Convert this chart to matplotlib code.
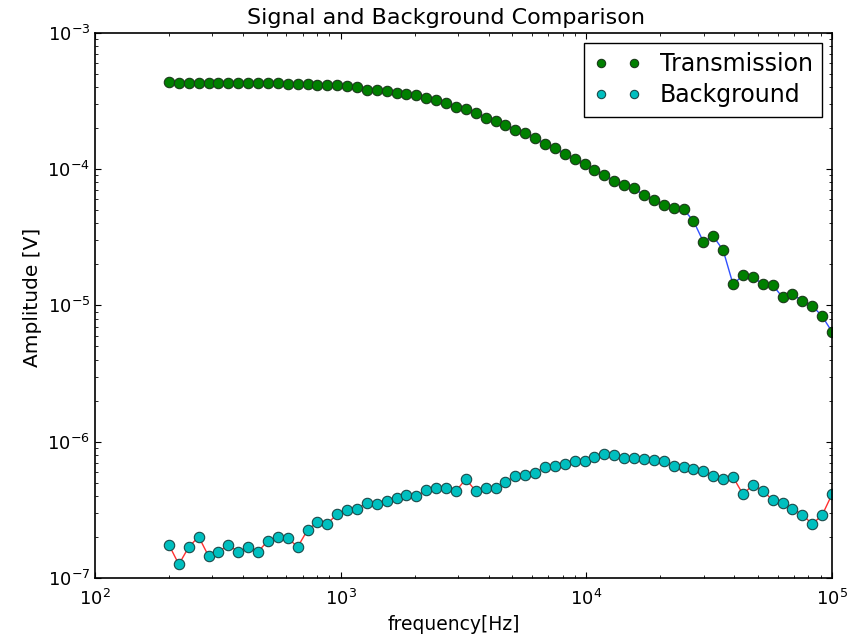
import matplotlib
matplotlib.use('Agg')
import matplotlib.pyplot as plt

# Frequency points of the sweep [Hz]
frequency = [200, 219.4, 240.8, 264.2, 289.8, 318.0, 348.9, 382.8, 420.0, 460.9,
             505.7, 554.8, 608.7, 667.9, 732.8, 804.0, 882.1, 967.9, 1061.9, 1165.1,
             1278.4, 1402.6, 1538.9, 1688.5, 1852.6, 2032.7, 2230.2, 2447.0, 2684.8, 2945.7,
             3232.0, 3546.1, 3890.8, 4268.9, 4683.8, 5139.0, 5638.5, 6186.5, 6787.7, 7447.4,
             8171.2, 8965.3, 9836.6, 10792.7, 11841.6, 12992.4, 14255.2, 15640.6, 17160.7, 18828.6,
             20658.5, 22666.2, 24869.2, 27286.1, 29938.0, 32847.6, 36040.1, 39542.7, 43385.7, 47602.3,
             52228.6, 57304.5, 62873.8, 68984.4, 75688.9, 83044.9, 91116.0, 100000]

# Measured amplitude with the sample in place [V]
transmission = [4.36e-4, 4.29e-4, 4.29e-4, 4.29e-4, 4.29e-4, 4.29e-4, 4.29e-4, 4.29e-4, 4.29e-4, 4.26e-4,
                4.26e-4, 4.26e-4, 4.21e-4, 4.21e-4, 4.21e-4, 4.12e-4, 4.12e-4, 4.12e-4, 4.05e-4, 3.99e-4,
                3.81e-4, 3.81e-4, 3.74e-4, 3.60e-4, 3.54e-4, 3.48e-4, 3.35e-4, 3.22e-4, 3.06e-4, 2.87e-4,
                2.76e-4, 2.60e-4, 2.39e-4, 2.26e-4, 2.10e-4, 1.95e-4, 1.84e-4, 1.68e-4, 1.54e-4, 1.42e-4,
                1.30e-4, 1.18e-4, 1.09e-4, 9.93e-5, 9.02e-5, 8.19e-5, 7.71e-5, 7.21e-5, 6.44e-5, 5.92e-5,
                5.50e-5, 5.19e-5, 5.06e-5, 4.17e-5, 2.93e-5, 3.22e-5, 2.54e-5, 1.43e-5, 1.66e-5, 1.62e-5,
                1.43e-5, 1.41e-5, 1.15e-5, 1.21e-5, 1.08e-5, 9.93e-6, 8.35e-6, 6.40e-6]

# Measured amplitude without the sample [V]
background = [1.75e-7, 1.26e-7, 1.69e-7, 2.01e-7, 1.45e-7, 1.56e-7, 1.75e-7, 1.56e-7, 1.69e-7, 1.56e-7,
              1.88e-7, 2.01e-7, 1.97e-7, 1.69e-7, 2.25e-7, 2.58e-7, 2.51e-7, 2.94e-7, 3.14e-7, 3.23e-7,
              3.55e-7, 3.48e-7, 3.66e-7, 3.87e-7, 4.09e-7, 3.98e-7, 4.42e-7, 4.55e-7, 4.55e-7, 4.35e-7,
              5.33e-7, 4.34e-7, 4.56e-7, 4.55e-7, 5.04e-7, 5.63e-7, 5.73e-7, 5.90e-7, 6.56e-7, 6.67e-7,
              6.86e-7, 7.26e-7, 7.22e-7, 7.68e-7, 8.12e-7, 7.95e-7, 7.63e-7, 7.63e-7, 7.47e-7, 7.34e-7,
              7.22e-7, 6.67e-7, 6.52e-7, 6.31e-7, 6.07e-7, 5.60e-7, 5.33e-7, 5.51e-7, 4.12e-7, 4.81e-7,
              4.37e-7, 3.74e-7, 3.54e-7, 3.23e-7, 2.92e-7, 2.49e-7, 2.89e-7, 4.12e-7]

plt.rcParams['xtick.direction'] = 'in'
plt.rcParams['ytick.direction'] = 'in'
plt.rcParams['xtick.top'] = True
plt.rcParams['ytick.right'] = True
plt.rcParams['xtick.major.size'] = 4
plt.rcParams['ytick.major.size'] = 4
plt.rcParams['xtick.minor.size'] = 2
plt.rcParams['ytick.minor.size'] = 2
plt.rcParams['axes.linewidth'] = 1.2

fig = plt.figure(figsize=(8.56, 6.43), dpi=100)
ax = fig.add_axes([0.111, 0.101, 0.861, 0.848])

# lines first, markers on top
ax.plot(frequency, transmission, '-', color='#3050ff', lw=1)
ax.plot(frequency, transmission, 'o', color=(0, 0.5, 0), markersize=7.5, mec='#1a3a1a', mew=0.8,
        label='Transmission')
ax.plot(frequency, background, '-', color='#ff3030', lw=1)
ax.plot(frequency, background, 'o', color=(0, 0.75, 0.75), markersize=7.5, mec='#1a4a4a', mew=0.8,
        label='Background')

ax.set_xscale('log')
ax.set_yscale('log')
ax.set_xlim(1e2, 1e5)
ax.set_ylim(1e-7, 1e-3)
ax.tick_params(labelsize=13)
ax.tick_params(axis='x', pad=8)

ax.set_title('Signal and Background Comparison', fontsize=16, x=0.476)
ax.set_xlabel('frequency[Hz]', fontsize=13.5, x=0.487)
ax.set_ylabel('Amplitude [V]', fontsize=14.5, y=0.515)

ax.legend(loc='upper right', numpoints=2, fontsize=17, fancybox=False, edgecolor='black',
          framealpha=1, markerscale=0.8, handlelength=2.0, handletextpad=0.8,
          labelspacing=0.3, borderaxespad=0.42)

plt.savefig('out.png', dpi=100)
